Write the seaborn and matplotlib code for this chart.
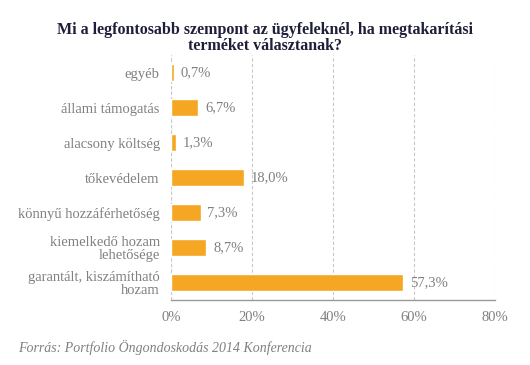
import matplotlib
matplotlib.use('Agg')
import matplotlib.pyplot as plt
import seaborn as sns
import pandas as pd

categories = ['egyéb', 'állami támogatás', 'alacsony költség', 'tőkevédelem',
              'könnyű hozzáférhetőség', 'kiemelkedő hozam\nlehetősége',
              'garantált, kiszámítható\nhozam']
values = [0.7, 6.7, 1.3, 18.0, 7.3, 8.7, 57.3]
xticks = [0, 20, 40, 60, 80]

df = pd.DataFrame({'category': categories, 'value': values})

sns.set_theme(style='white')
plt.rcParams['font.family'] = ['Liberation Serif', 'DejaVu Serif']

gray = '#808080'
fig = plt.figure(figsize=(5.3, 3.65), dpi=100)
ax = fig.add_axes([0.3226, 0.178, 0.611, 0.671])

sns.barplot(data=df, x='value', y='category', color='#F5A623', width=0.5,
            saturation=1, ax=ax, zorder=3)

ax.set_xlim(0, 80)
ax.set_ylim(6.5, -0.5)
ax.set_xticks(xticks)
ax.set_xticklabels([f'{t}%' for t in xticks], color=gray, fontsize=10.5)
ax.tick_params(axis='y', labelsize=10.5, labelcolor=gray, length=0, pad=8)
ax.tick_params(axis='x', length=0, pad=8)
ax.set_xlabel('')
ax.set_ylabel('')
for lbl in ax.get_yticklabels():
    lbl.set_linespacing(0.95)

ax.grid(axis='x', color='#c8c8c8', linestyle=(0, (3, 2)), linewidth=0.8, zorder=0)
for s in ['top', 'right', 'left']:
    ax.spines[s].set_visible(False)
ax.spines['bottom'].set_color('#999999')
ax.spines['bottom'].set_linewidth(1)
ax.axvline(0, color='#c8c8c8', linestyle=(0, (3, 2)), linewidth=0.8, zorder=1)

for i, v in enumerate(values):
    ax.text(v + 1.7, i, f'{v:.1f}%'.replace('.', ','), va='center', ha='left',
            color=gray, fontsize=10.5)

fig.text(0.5, 0.94, 'Mi a legfontosabb szempont az ügyfeleknél, ha megtakarítási\nterméket választanak?',
         ha='center', va='top', fontsize=11.5, fontweight='bold', color='#1f1f3a',
         linespacing=1.0)
fig.text(0.034, 0.048, 'Forrás: Portfolio Öngondoskodás 2014 Konferencia',
         ha='left', va='center', fontsize=10, style='italic', color=gray)

fig.savefig('out.png', dpi=100)
